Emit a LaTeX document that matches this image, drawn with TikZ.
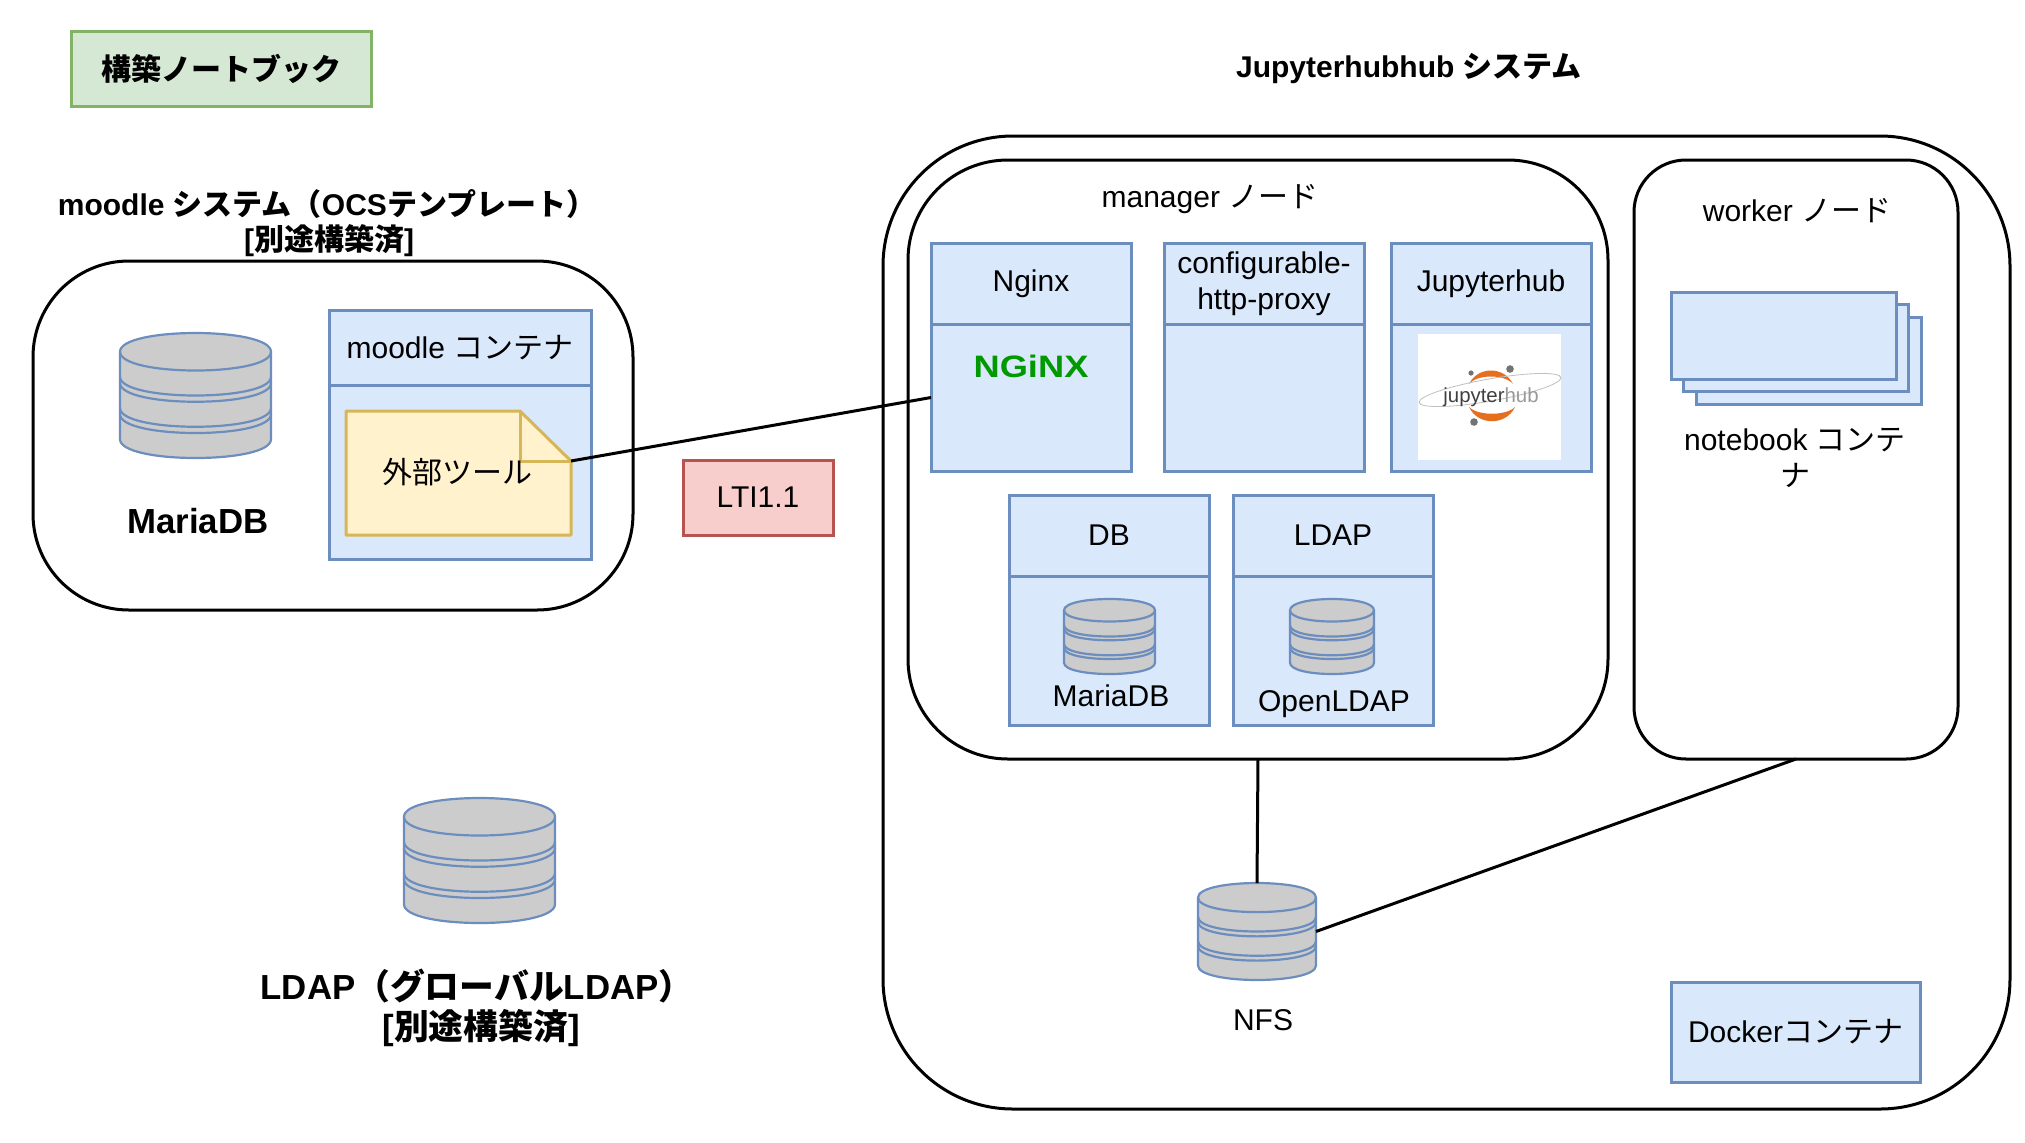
\documentclass[tikz,border=0pt]{standalone}
\usepackage{fontspec}
\setmainfont{Liberation Sans}
\newfontfamily\cjk{Noto Sans CJK JP}
\usetikzlibrary{positioning, calc}
\newcommand{\jp}[1]{{\cjk #1}}
\newcommand{\datadrum}[5]{%
  \node[minimum width=#4*.5pt, minimum height=#5*.5pt, inner sep=0pt,
        outer sep=0pt] (#1) at (#2,#3) {};
  \begin{scope}[shift={(#1.north west)}, x=#4*.5pt, y=-#5*.5pt,
      draw=boxline, line join=round, line width=1.1pt]
    \draw[fill=drumgray] (0,.15) -- (0,.85) .. controls (0,1.05) and (1,1.05) .. (1,.85)
      -- (1,.15) .. controls (1,-.05) and (0,-.05) .. (0,.15) -- cycle;
    \draw (0,.15) .. controls (0,.35) and (1,.35) .. (1,.15);
    \foreach \ringy in {.35,.40,.60,.65} {
      \draw (0,\ringy) .. controls (0,\ringy+.2) and (1,\ringy+.2) .. (1,\ringy);
    }
  \end{scope}
}
\definecolor{boxline}{HTML}{6C8EBF}
\definecolor{boxfill}{HTML}{DAE8FC}
\definecolor{drumgray}{HTML}{CCCCCC}
\definecolor{noteline}{HTML}{D6B656}
\definecolor{notefill}{HTML}{FFF2CC}
\definecolor{ltiline}{HTML}{B85450}
\definecolor{ltifill}{HTML}{F8CECC}
\definecolor{bookline}{HTML}{82B366}
\definecolor{bookfill}{HTML}{D5E8D4}
\definecolor{jupyorange}{HTML}{E66F1F}
\begin{document}
\begin{tikzpicture}[
    x=.5pt, y=-.5pt,
    every node/.style={inner sep=0pt, outer sep=0pt, align=center,
        font=\fontsize{15}{18}\selectfont},
    zone/.style={draw, line width=1.5pt, anchor=north west},
    plainbox/.style={draw=boxline, fill=boxfill, line width=1.5pt},
    headbox/.style={plainbox, minimum width=100pt, minimum height=40.5pt,
        anchor=north west},
    bodybox/.style={plainbox, minimum width=100pt, minimum height=73.5pt,
        below=0pt of #1},
    bigbold/.style={font=\fontsize{17.4}{21}\selectfont\bfseries},
    smallbold/.style={font=\fontsize{15}{18}\selectfont\bfseries}
  ]
  \useasboundingbox (0,0) rectangle (2025,1142);

  \node[draw=bookline, fill=bookfill, line width=1.5pt, smallbold,
        minimum width=150pt, minimum height=37.5pt, anchor=north west]
    (book) at (71,31) {\jp{構築ノートブック}};
  \node[smallbold] (jtitle) at (1409,69) {Jupyterhubhub \jp{システム}};
  \node[smallbold] (mtitle) at (327,204) {moodle \jp{システム（}OCS\jp{テンプレート）}};
  \node[smallbold] (mdone) at (329,241) {[\jp{別途構築済}]};

  \node[zone, rounded corners=48pt, minimum width=300pt, minimum height=174.5pt]
    (moodle) at (33,261) {};
  \node[zone, rounded corners=65pt, minimum width=563.5pt, minimum height=486.5pt]
    (jhub) at (883,136) {};
  \node[zone, rounded corners=50pt, minimum width=350pt, minimum height=299.5pt]
    (mgr) at (908,160) {};
  \node[zone, rounded corners=26pt, minimum width=162pt, minimum height=299.5pt]
    (wrk) at (1634,160) {};

  \node[below=12pt of mgr.north, xshift=-24pt] (mgrlabel) {manager \jp{ノード}};
  \node[below=19pt of wrk.north, xshift=.5pt] (wrklabel) {worker \jp{ノード}};

  \datadrum{mdb}{195.5}{395.5}{151}{125}
  \node[bigbold] (mdblabel) at (198,521) {MariaDB};

  \node[headbox, minimum width=131pt, minimum height=37.5pt]
    (mhead) at (329,310) {moodle \jp{コンテナ}};
  \node[plainbox, minimum width=131pt, minimum height=87pt, below=0pt of mhead]
    (mbody) {};
  \node[minimum width=112.5pt, minimum height=62pt, anchor=north west]
    (tool) at (346,411) {};
  \coordinate (fold) at ($(tool.north east)+(0,-25pt)$);
  \coordinate (foldtop) at ($(tool.north east)+(-25.5pt,0)$);
  \coordinate (foldin) at ($(fold)+(-25.5pt,0)$);
  \draw[draw=noteline, fill=notefill, line width=1.5pt, line join=round]
    (tool.north west) -- (foldtop) -- (fold) -- (tool.south east)
    -- (tool.south west) -- cycle;
  \draw[draw=noteline, line width=1.5pt, line join=round]
    (foldtop) -- (foldin) -- (fold);
  \node (toollabel) at (457,472) {\jp{外部ツール}};

  \node[draw=ltiline, fill=ltifill, line width=1.5pt, minimum width=75pt,
        minimum height=37.5pt, anchor=north west] (lti) at (683,460) {LTI1.1};

  \node[headbox] (nginx) at (931,243) {Nginx};
  \node[bodybox=nginx] (nginxb) {};
  \node[headbox, right=16.5pt of nginx] (proxy) {configurable-\\http-proxy};
  \node[bodybox=proxy] (proxyb) {};
  \node[headbox, right=13.5pt of proxy] (jupy) {Jupyterhub};
  \node[bodybox=jupy] (jupyb) {};

  \node[text=green!60!black, xscale=1.17, font=\fontsize{15.5}{16}\selectfont\bfseries]
    (nginxlogo) at (1031,366) {NGiNX};

  \node[fill=white, minimum width=71.5pt, minimum height=63pt] (logo) at (1489.5,397) {};
  \fill[jupyorange] (1469,384) .. controls (1478,366) and (1504,366) .. (1513,384)
    .. controls (1505,374) and (1477,374) .. (1469,384) -- cycle;
  \fill[jupyorange] (1469,407) .. controls (1478,426) and (1506,426) .. (1515,407)
    .. controls (1506,416) and (1478,416) .. (1469,407) -- cycle;
  \draw[black!25, line width=.4pt, rotate around={10:(1490,390)}]
    (1490,390) ellipse [x radius=36pt, y radius=5.5pt];
  \fill[black!55] (1471,373) circle [radius=1.3pt];
  \fill[black!55] (1510,369) circle [radius=1.9pt];
  \fill[black!55] (1474,422) circle [radius=1.9pt];
  \node[text=black!75, font=\fontsize{10.2}{10}\selectfont] (logotext) at (1491,397)
    {jupyter\textcolor{black!40}{hub}};

  \node[headbox] (db) at (1009,495) {DB};
  \node[bodybox=db, minimum height=74.5pt] (dbb) {};
  \node[headbox, right=12pt of db] (ldap) {LDAP};
  \node[bodybox=ldap, minimum height=74.5pt] (ldapb) {};
  \datadrum{dbdrum}{1109.5}{636.5}{91}{75}
  \node (dblabel) at (1111,696) {MariaDB};
  \datadrum{ldapdrum}{1332}{636.5}{84}{75}
  \node (ldaplabel) at (1334,704) {OpenLDAP};

  \node[plainbox, minimum width=112.5pt, minimum height=43.5pt] (nb3) at (1808.5,360.5) {};
  \node[plainbox, minimum width=112.5pt, minimum height=43.5pt] (nb2) at ($(nb3)+(-12.5,-12.5)$) {};
  \node[plainbox, minimum width=112.5pt, minimum height=43.5pt] (nb1) at ($(nb2)+(-12.5,-12.5)$) {};
  \node (nblabel) at (1795,458) {notebook \jp{コンテ}\\\jp{ナ}};

  \datadrum{nfs}{1257}{931.5}{118}{97}
  \node (nfslabel) at (1263,1020) {NFS};
  \node[plainbox, minimum width=124.5pt, minimum height=50pt, anchor=north west]
    (docker) at (1671,982) {Docker\jp{コンテナ}};

  \datadrum{gldap}{479.5}{860.5}{151}{125}
  \node[bigbold] (gldaplabel) at (477,986) {LDAP\jp{（グローバル}LDAP\jp{）}};
  \node[bigbold] (gldapdone) at (481,1028) {[\jp{別途構築済}]};

  \draw[line width=1.5pt] (fold) -- (nginxb.west);
  \draw[line width=1.5pt] (mgr.south) -- (nfs.north);
  \draw[line width=1.5pt] (wrk.south) -- (nfs.east);
\end{tikzpicture}
\end{document}
